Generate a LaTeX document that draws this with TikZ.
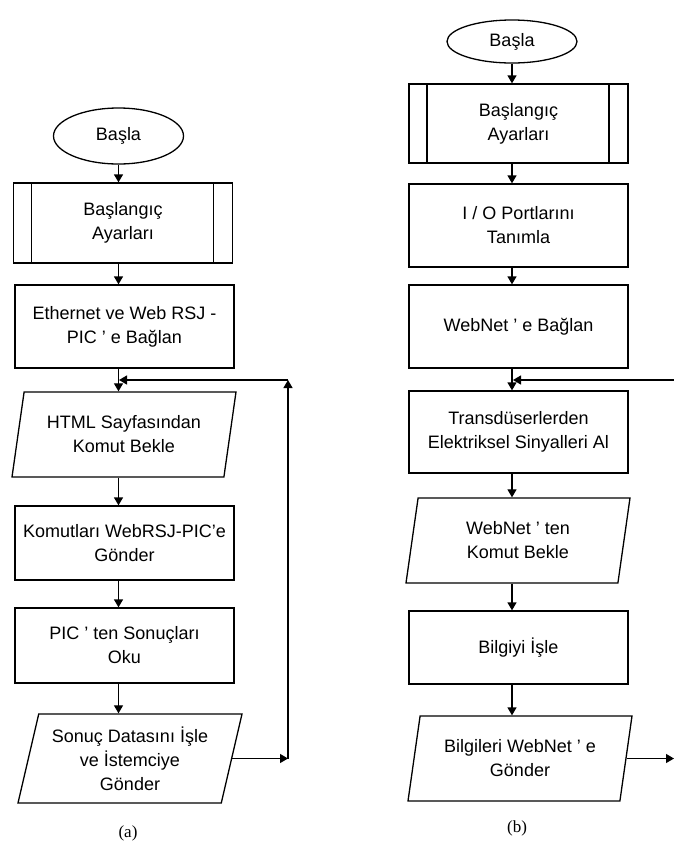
\documentclass[tikz,border=0pt]{standalone}
\usepackage{fontspec}
\setmainfont{Liberation Sans}
\newfontfamily\capfont{Liberation Serif}
\usetikzlibrary{shapes.geometric, arrows.meta}
\begin{document}
\begin{tikzpicture}[x = 1pt, y = -1pt, line width = 1.3pt, align = center, font = \fontsize{18}{24}\selectfont,
		box/.style = { draw, rectangle, minimum width = 219pt, inner sep = 0pt },
		subproc/.style = { box, path picture = {
				\draw ([xshift = 18pt]path picture bounding box.north west) -- ([xshift = 18pt]path picture bounding box.south west);
				\draw ([xshift = -19pt]path picture bounding box.north east) -- ([xshift = -19pt]path picture bounding box.south east); } },
		inout/.style = { draw, trapezium, trapezium left angle = 72, trapezium right angle = 108, trapezium stretches body, minimum width = 224pt, inner sep = 0pt },
		startend/.style = { draw, ellipse, minimum width = 130pt, inner sep = 0pt },
		arr/.style = { -{Triangle[width = 9pt, length = 8pt]} },
		caption/.style = { font = \capfont\fontsize{17}{20}\selectfont }]
	\useasboundingbox (0,0) rectangle (674,847);
	% (a)
	\node[startend, minimum height = 56pt] (la) at (118.5,136) {Başla};
	\node[subproc, minimum height = 80pt] (lb) at (123,223) {Başlangıç \\ Ayarları};
	\node[box, minimum height = 83pt] (lc) at (124.5,326.5) {Ethernet ve Web RSJ - \\ PIC ' e Bağlan};
	\node[inout, minimum height = 85pt] (ld) at (124,434.5) {HTML Sayfasından \\ Komut Bekle};
	\node[box, minimum height = 74pt] (le) at (124.5,543) {Komutları WebRSJ-PIC'e \\ Gönder};
	\node[box, minimum height = 75pt] (lf) at (124.5,645.5) {PIC ' ten Sonuçları \\ Oku};
	\node[inout, minimum height = 89pt] (lg) at (130,758.5) {Sonuç Datasını İşle \\ ve İstemciye \\ Gönder};
	\node[caption] (lcap) at (128,833) {(a)};
	\coordinate (lt) at (288,380);
	\coordinate (lr) at (lg.east -| lt);
	\coordinate (lj) at (119,380);
	\draw[arr] (la.south) -- (la.south |- lb.north);
	\draw[arr] (la.south |- lb.south) -- (la.south |- lc.north);
	\draw[arr] (la.south |- lc.south) -- (la.south |- ld.north);
	\draw[arr] (la.south |- ld.south) -- (la.south |- le.north);
	\draw[arr] (la.south |- le.south) -- (la.south |- lf.north);
	\draw[arr] (la.south |- lf.south) -- (la.south |- lg.north);
	\draw[arr] (lg.east) -- (lr);
	\draw[arr] (lr) -- (lt);
	\draw[arr] (lt) -- (lj);
	% (b)
	\node[startend, minimum height = 43pt] (ra) at (512,41.5) {Başla};
	\node[subproc, minimum height = 79pt] (rb) at (518.5,123.5) {Başlangıç \\ Ayarları};
	\node[box, minimum height = 83pt] (rc) at (518.5,225.5) {I / O Portlarını \\ Tanımla};
	\node[box, minimum height = 83pt] (rd) at (518.5,326.5) {WebNet ' e Bağlan};
	\node[box, minimum height = 82pt] (re) at (518.5,432) {Transdüserlerden \\ Elektriksel Sinyalleri Al};
	\node[inout, minimum height = 85pt] (rf) at (518,540.5) {WebNet ' ten \\ Komut Bekle};
	\node[box, minimum height = 73pt] (rg) at (518.5,647.5) {Bilgiyi İşle};
	\node[inout, minimum height = 85pt] (rh) at (520,758.5) {Bilgileri WebNet ' e \\ Gönder};
	\node[caption] (rcap) at (517,828) {(b)};
	\coordinate (rk) at (674,380);
	\coordinate (rj) at (513,380);
	\coordinate (ro) at (rh.east -| rk);
	\draw[arr] (ra.south) -- (ra.south |- rb.north);
	\draw[arr] (ra.south |- rb.south) -- (ra.south |- rc.north);
	\draw[arr] (ra.south |- rc.south) -- (ra.south |- rd.north);
	\draw[arr] (ra.south |- rd.south) -- (ra.south |- re.north);
	\draw[arr] (ra.south |- re.south) -- (ra.south |- rf.north);
	\draw[arr] (ra.south |- rf.south) -- (ra.south |- rg.north);
	\draw[arr] (ra.south |- rg.south) -- (ra.south |- rh.north);
	\draw[arr] (rk) -- (rj);
	\draw[arr] (rh.east) -- (ro);
\end{tikzpicture}
\end{document}
